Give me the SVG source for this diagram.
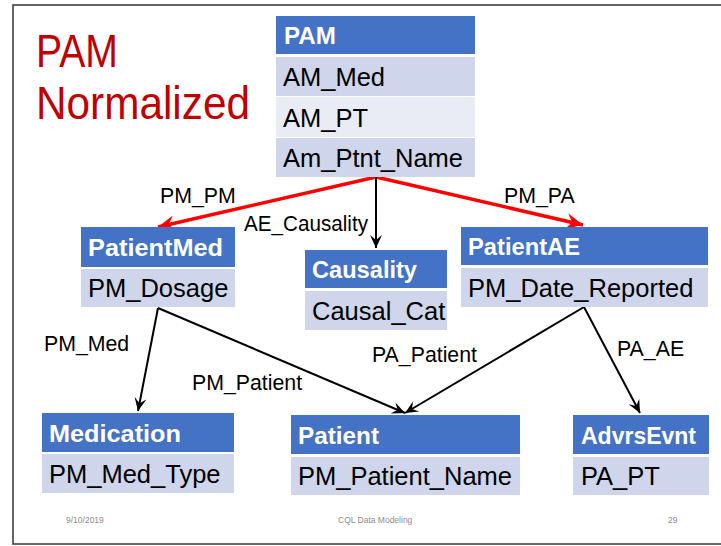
<svg xmlns="http://www.w3.org/2000/svg" width="721" height="546" viewBox="0 0 721 546">
<style>
.hd{fill:#4472C4}
.r1{fill:#CFD5EA}
.r2{fill:#E9EBF5}
.ht{font-family:"Liberation Sans",Arial,sans-serif;font-weight:bold;font-size:24.5px;fill:#fff}
.rt{font-family:"Liberation Sans",Arial,sans-serif;font-size:25.5px;fill:#000}
.lb{font-family:"Liberation Sans",Arial,sans-serif;font-size:21.3px;fill:#000}
.ft{font-family:"Liberation Sans",Arial,sans-serif;font-size:8.5px;fill:#8C8C8C}
.red{stroke:#FF0000;stroke-width:3.5;fill:none;marker-end:url(#ar)}
.blk{stroke:#000;stroke-width:2;fill:none;marker-end:url(#ab)}
</style>
<defs>
<marker id="ar" markerUnits="userSpaceOnUse" viewBox="-18 -9 19 18" refX="0" refY="0" markerWidth="19" markerHeight="18" orient="auto" overflow="visible">
<path d="M0,0 L-17,-8 L-11,0 L-17,8 Z" fill="#FF0000"/>
</marker>
<marker id="ab" markerUnits="userSpaceOnUse" viewBox="-14 -7 15 14" refX="0" refY="0" markerWidth="15" markerHeight="14" orient="auto" overflow="visible">
<path d="M0,0 L-13,-6 L-8,0 L-13,6 Z" fill="#000"/>
</marker>
</defs>
<rect x="0" y="0" width="721" height="546" fill="#fff"/>
<rect x="13" y="5" width="720" height="539" fill="none" stroke="#333" stroke-width="1.5"/>
<g id="title">
<text x="36" y="67" font-family="'Liberation Sans',Arial,sans-serif" font-size="47" fill="#C00000" textLength="82" lengthAdjust="spacingAndGlyphs">PAM</text>
<text x="36" y="119" font-family="'Liberation Sans',Arial,sans-serif" font-size="47" fill="#C00000" textLength="214" lengthAdjust="spacingAndGlyphs">Normalized</text>
</g>
<g id="connectors">
<line class="red" x1="376" y1="177" x2="158" y2="227"/>
<line class="red" x1="376" y1="177" x2="583" y2="225"/>
<line class="blk" x1="376" y1="177" x2="376" y2="248"/>
<line class="blk" x1="158" y1="308" x2="138" y2="411"/>
<line class="blk" x1="158" y1="308" x2="405" y2="413"/>
<line class="blk" x1="584" y1="307" x2="405" y2="413"/>
<line class="blk" x1="584" y1="307" x2="640" y2="413"/>
<text class="lb" x="160" y="203">PM_PM</text>
<text class="lb" x="244" y="231" textLength="124" lengthAdjust="spacingAndGlyphs">AE_Causality</text>
<text class="lb" x="504" y="203">PM_PA</text>
<text class="lb" x="44" y="351">PM_Med</text>
<text class="lb" x="192" y="390">PM_Patient</text>
<text class="lb" x="372" y="362">PA_Patient</text>
<text class="lb" x="617" y="356">PA_AE</text>
</g>
<g id="PAM">
<rect class="hd" x="276" y="16" width="199" height="38"/>
<rect class="r1" x="276" y="57" width="199" height="39"/>
<rect class="r2" x="276" y="97" width="199" height="40"/>
<rect class="r1" x="276" y="138" width="199" height="39"/>
<text class="ht" x="284" y="44" textLength="52" lengthAdjust="spacingAndGlyphs">PAM</text>
<text class="rt" x="283" y="86">AM_Med</text>
<text class="rt" x="283" y="127">AM_PT</text>
<text class="rt" x="283" y="167">Am_Ptnt_Name</text>
</g>
<g id="PatientMed">
<rect class="hd" x="81" y="227" width="154" height="40"/>
<rect class="r1" x="81" y="269" width="154" height="38"/>
<text class="ht" x="88" y="256" textLength="135" lengthAdjust="spacingAndGlyphs">PatientMed</text>
<text class="rt" x="88" y="297">PM_Dosage</text>
</g>
<g id="Causality">
<rect class="hd" x="305" y="250" width="142" height="38"/>
<rect class="r1" x="305" y="291" width="142" height="39"/>
<text class="ht" x="312" y="278" textLength="105" lengthAdjust="spacingAndGlyphs">Causality</text>
<text class="rt" x="312" y="320">Causal_Cat</text>
</g>
<g id="PatientAE">
<rect class="hd" x="461" y="227" width="247" height="38"/>
<rect class="r1" x="461" y="268" width="247" height="39"/>
<text class="ht" x="468" y="255" textLength="112" lengthAdjust="spacingAndGlyphs">PatientAE</text>
<text class="rt" x="468" y="297">PM_Date_Reported</text>
</g>
<g id="Medication">
<rect class="hd" x="42" y="413" width="192" height="39"/>
<rect class="r1" x="42" y="454" width="192" height="39"/>
<text class="ht" x="49" y="442" textLength="132" lengthAdjust="spacingAndGlyphs">Medication</text>
<text class="rt" x="49" y="483">PM_Med_Type</text>
</g>
<g id="Patient">
<rect class="hd" x="291" y="415" width="229" height="39"/>
<rect class="r1" x="291" y="457" width="229" height="38"/>
<text class="ht" x="298" y="444" textLength="81" lengthAdjust="spacingAndGlyphs">Patient</text>
<text class="rt" x="298" y="485">PM_Patient_Name</text>
</g>
<g id="AdvrsEvnt">
<rect class="hd" x="573" y="415" width="136" height="39"/>
<rect class="r1" x="573" y="457" width="136" height="38"/>
<text class="ht" x="581" y="444" textLength="115" lengthAdjust="spacingAndGlyphs">AdvrsEvnt</text>
<text class="rt" x="581" y="485">PA_PT</text>
</g>
<g id="footer">
<text class="ft" x="66" y="523">9/10/2019</text>
<text class="ft" x="338" y="523">CQL Data Modeling</text>
<text class="ft" x="668" y="523">29</text>
</g>
</svg>
